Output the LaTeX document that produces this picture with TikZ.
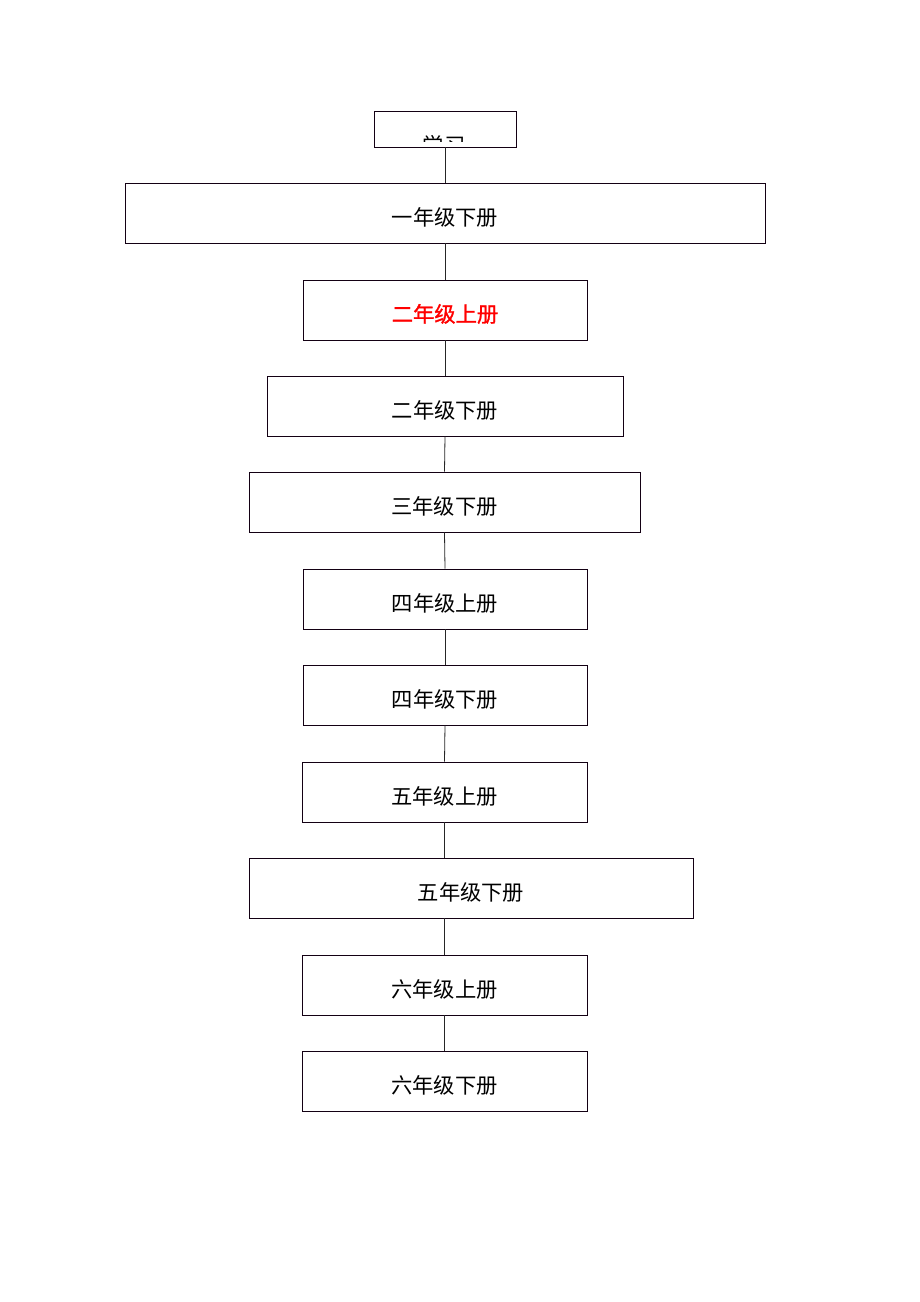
\documentclass[tikz,border=0pt]{standalone}
\usepackage{fontspec}
\newfontfamily\cjk{Noto Sans CJK SC}
\newfontfamily\cjkm{Noto Sans CJK SC}[FakeBold=1.3]
\begin{document}
\begin{tikzpicture}[x=1pt,y=-1pt,
  box/.style={draw=black!85!violet,line width=0.8pt,rectangle,inner sep=0pt,font=\cjk\fontsize{21.3}{22}\selectfont,text=black,text height=26.5pt,text depth=2.5pt},
  link/.style={draw=black!85,line width=0.8pt}]
\useasboundingbox (0,0) rectangle (920,1302);
\fill[white] (0,0) rectangle (920,1302);
% top box
\node[box,minimum width=142pt,minimum height=36pt] (t) at (445,129) {};
\begin{scope}
\clip (375,112) rectangle (515,141);
\node[font=\cjk\fontsize{21.3}{22}\selectfont,inner sep=0pt] (tt) at (444,145) {学习};
\end{scope}
\node[box,minimum width=640pt,minimum height=60pt] (b1) at (445,213) {一年级下册};
\node[box,minimum width=284pt,minimum height=60pt,text=red,font=\cjkm\fontsize{21.3}{22}\selectfont] (b2) at (445,310) {二年级上册};
\node[box,minimum width=356pt,minimum height=60pt] (b3) at (445,406) {二年级下册};
\node[box,minimum width=391pt,minimum height=60pt] (b4) at (444.5,502) {三年级下册};
\node[box,minimum width=284pt,minimum height=60pt] (b5) at (445,599) {四年级上册};
\node[box,minimum width=284pt,minimum height=60pt] (b6) at (445,695) {四年级下册};
\node[box,minimum width=285pt,minimum height=60pt] (b7) at (444.5,792) {五年级上册};
\node[box,minimum width=444pt,minimum height=60pt] (b8) at (471,888) {五年级下册};
\node[box,minimum width=285pt,minimum height=60pt] (b9) at (444.5,985) {六年级上册};
\node[box,minimum width=285pt,minimum height=60pt] (b10) at (444.5,1081) {六年级下册};
\draw[link] (t.south) -- (b1.north);
\draw[link] (b1.south) -- (b2.north);
\draw[link] (b2.south) -- (b3.north);
\draw[link] (b3.south) -- (b4.north);
\draw[link] (b4.south) -- (b5.north);
\draw[link] (b5.south) -- (b6.north);
\draw[link] (b6.south) -- (b7.north);
\draw[link] (b7.south) -- (b8.north -| b7.south);
\draw[link] (b8.south -| b9.north) -- (b9.north);
\draw[link] (b9.south) -- (b10.north);
\end{tikzpicture}
\end{document}
